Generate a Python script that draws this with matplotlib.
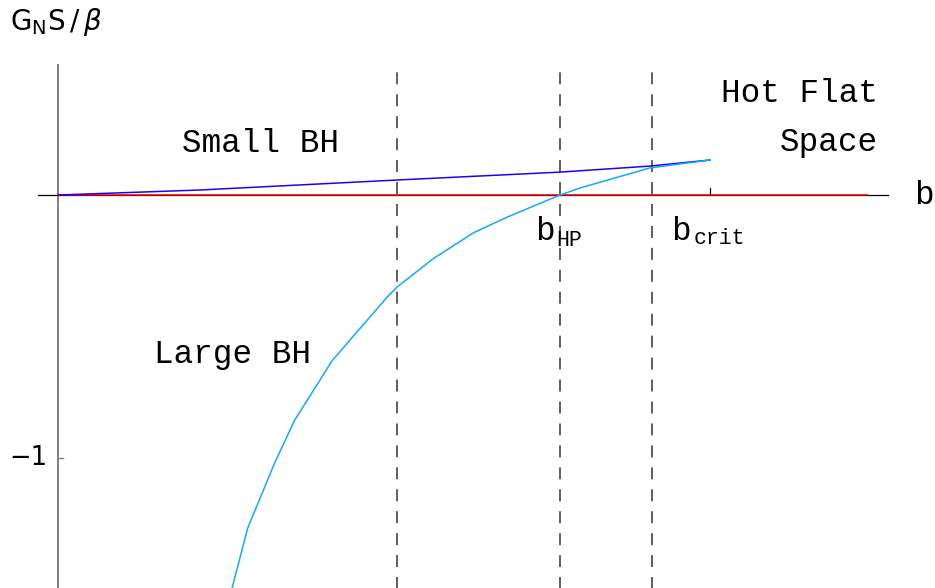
import matplotlib
matplotlib.use("Agg")
import matplotlib.pyplot as plt

# light blue curve: large black hole branch (b, G_N S / beta)
large_b = [0.267, 0.291, 0.333, 0.363, 0.402, 0.420, 0.505, 0.520, 0.575,
           0.637, 0.689, 0.770, 0.801, 0.908, 1.0]
large_s = [-1.494, -1.266, -1.015, -0.856, -0.703, -0.631, -0.388, -0.350,
           -0.243, -0.144, -0.084, 0.0, 0.027, 0.103, 0.133]

# dark blue curve: small black hole branch
small_b = [0.0, 0.218, 0.520, 0.770, 0.908, 1.0]
small_s = [0.0, 0.019, 0.057, 0.087, 0.110, 0.133]

# red line: hot flat space
flat_b = [0.0, 1.241]
flat_s = [0.0, 0.0]

dashed_b = [0.520, 0.770, 0.911]
b_hp = 0.770
b_crit = 1.0

mono = "Liberation Mono"
plt.rcParams['lines.scale_dashes'] = False

fig = plt.figure(figsize=(9.35, 5.88), dpi=100)
ax = fig.add_axes([0, 0, 1, 1])
ax.set_xlim(-58/652, 877/652)
ax.set_ylim(-393/263, 195/263)
ax.axis('off')

# axes drawn by hand, Mathematica style
ax.plot([0, 0], [-1.6, 0.494], color='#808080', lw=1.4, zorder=1)
ax.plot([-0.031, 1.273], [0, 0], color='black', lw=0.9, zorder=1)
ax.plot([b_crit, b_crit], [0, 0.026], color='black', lw=0.9)
ax.plot([0, 0.008], [-1, -1], color='#808080', lw=1.0)

for xb in dashed_b:
    ax.plot([xb, xb], [-1.6, 0.494], color='#333333', lw=1.1,
            linestyle=(0, (8.6, 7.2)), zorder=1)

ax.plot(flat_b, flat_s, color='#ee0000', lw=1.1, zorder=2)
ax.plot(small_b, small_s, color='#2200f4', lw=1.1, zorder=3)
ax.plot(large_b, large_s, color='#11aaff', lw=1.1, zorder=3)

# text
fs = 23.5
ax.text(10/652 - 58/652, 195/263 - 22/263, r"$\mathrm{G_N S}\,/\,\beta$",
        fontsize=20, ha='left', va='center')
ax.text(-0.017, -1, "\u22121", fontsize=18.5, ha='right', va='center')
ax.text((924-58)/652, 0, "b", fontfamily=mono, fontsize=fs, ha='center',
        va='center')

ax.text((261-58)/652, (195-143)/263, "Small BH", fontfamily=mono,
        fontsize=fs, ha='center', va='center')
ax.text((233-58)/652, (195-355)/263, "Large BH", fontfamily=mono,
        fontsize=fs, ha='center', va='center')
ax.text((878-58)/652, (195-93)/263, "Hot Flat", fontfamily=mono,
        fontsize=fs, ha='right', va='center')
ax.text((878-58)/652, (195-143)/263, "Space", fontfamily=mono,
        fontsize=fs, ha='right', va='center')

# tick labels with subscripts
ax.text((555-58)/652, (195-240)/263, "b", fontfamily=mono, fontsize=fs,
        ha='right', va='baseline')
ax.text((556-58)/652, (195-246)/263, "HP", fontfamily=mono, fontsize=15.5,
        ha='left', va='baseline')
ax.text((691-58)/652, (195-240)/263, "b", fontfamily=mono, fontsize=fs,
        ha='right', va='baseline')
ax.text((694-58)/652, (195-244)/263, "crit", fontfamily=mono, fontsize=15.5,
        ha='left', va='baseline')

fig.savefig("out.png", dpi=100)
